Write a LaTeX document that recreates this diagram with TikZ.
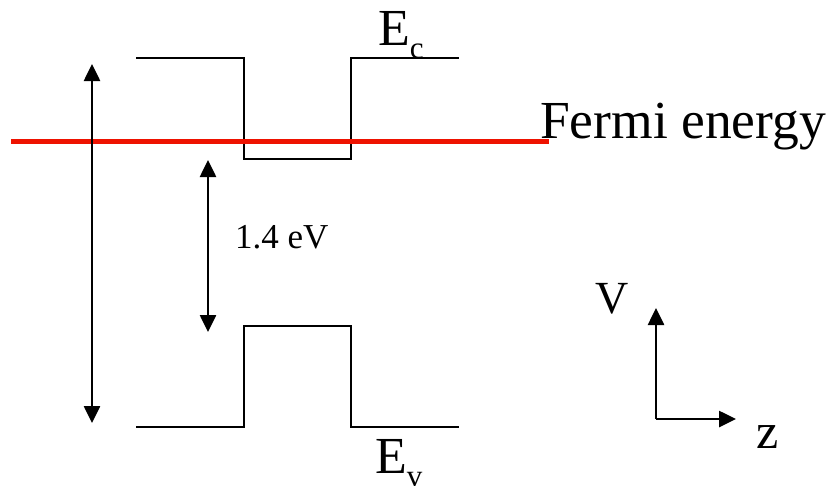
\documentclass[tikz,border=0pt]{standalone}
\usepackage{fontspec}
\setmainfont{Liberation Serif}
\usetikzlibrary{arrows.meta}
\definecolor{fermired}{RGB}{238,18,0}
\tikzset{
  band/.style={line width=1.7pt, line join=miter},
  dblarrow/.style={line width=2.6pt, {Triangle[length=17pt,width=16pt]}-{Triangle[length=17pt,width=16pt]}},
  axisarrow/.style={line width=2.6pt, -{Triangle[length=17pt,width=16pt]}},
  lbl/.style={inner sep=0pt, anchor=base west},
}
\begin{document}
\begin{tikzpicture}[x=1pt,y=-1pt]
\useasboundingbox (0,0) rectangle (827,485);
% conduction band
\draw[band] (136,58) -- (244,58) -- (244,159) -- (351,159) -- (351,58) -- (459,58);
% valence band
\draw[band] (136,427) -- (244,427) -- (244,326) -- (351,326) -- (351,427) -- (459,427);
% Fermi level
\coordinate (fl) at (11,141);
\coordinate (fr) at (549,141);
\draw[fermired, line width=5pt] (fl) -- (fr);
% arrows
\coordinate (a1t) at (92,64);
\coordinate (a1b) at (92,423);
\draw[dblarrow] (a1t) -- (a1b);
\coordinate (a2t) at (208,160);
\coordinate (a2b) at (208,332);
\draw[dblarrow] (a2t) -- (a2b);
% axes
\coordinate (o) at (656,419);
\coordinate (vy) at (656,308);
\coordinate (vz) at (736,419);
\draw[axisarrow] (o) -- (vy);
\draw[axisarrow] (o) -- (vz);
% labels
\node[lbl] (ec) at (378,45) {\fontsize{52}{60}\selectfont E\raisebox{-13pt}{\fontsize{31}{36}\selectfont c}};
\node[lbl] (ev) at (375,473) {\fontsize{52}{60}\selectfont E\raisebox{-13pt}{\fontsize{31}{36}\selectfont v}};
\node[lbl] (fe) at (540,138) {\fontsize{53.5}{60}\selectfont Fermi energy};
\node[lbl] (gap) at (235,248) {\fontsize{35}{40}\selectfont 1.4 eV};
\node[lbl] (vl) at (595,313) {\fontsize{46}{52}\selectfont V};
\node[lbl] (zl) at (756,448) {\fontsize{50}{56}\selectfont z};
\end{tikzpicture}
\end{document}
